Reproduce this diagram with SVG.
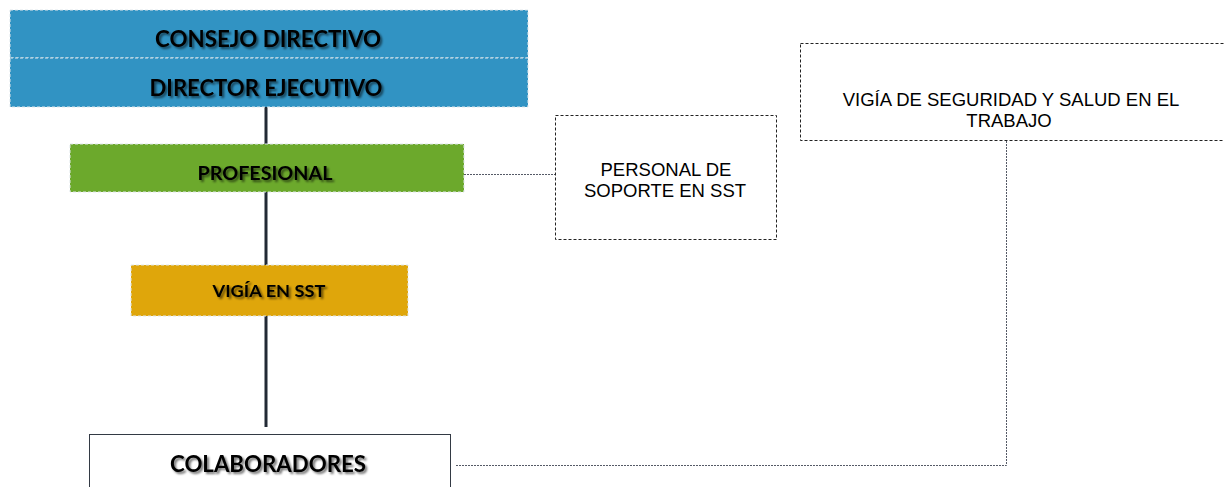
<svg xmlns="http://www.w3.org/2000/svg" width="1224" height="487" viewBox="0 0 1224 487">
<style>
.hdr{font-family:Lato,"Liberation Sans",sans-serif;font-weight:bold;fill:#000;text-anchor:middle;}
.plain{font-family:"Liberation Sans",Arial,sans-serif;font-size:18.5px;fill:#000;text-anchor:middle;}
.fillbox{stroke:#dfe6ea;stroke-width:1;stroke-dasharray:3 2;}
.dash{fill:#fff;stroke:#222;stroke-width:1;stroke-dasharray:3 2;}
.dot{fill:none;stroke:#555a66;stroke-width:1;stroke-dasharray:2 1;}
</style>
<defs>
<filter id="sh" x="-10%" y="-30%" width="120%" height="160%">
<feDropShadow dx="2" dy="2" stdDeviation="1.2" flood-color="#000" flood-opacity="0.55"/>
</filter>
</defs>
<rect width="1224" height="487" fill="#fff"/>
<g id="connectors">
<line x1="266" y1="100" x2="266" y2="427" stroke="#222a35" stroke-width="3"/>
<path class="dot" d="M464 174.5 H555"/>
<path class="dot" d="M1006.5 141 V465.5 H455"/>
</g>
<g id="consejo">
<rect class="fillbox" x="10" y="10" width="518" height="48" fill="#3193c3"/>
<text class="hdr" x="268" y="47" font-size="22" textLength="226" lengthAdjust="spacingAndGlyphs" filter="url(#sh)">CONSEJO DIRECTIVO</text>
</g>
<g id="director">
<rect class="fillbox" x="10" y="58" width="518" height="49" fill="#3193c3"/>
<text class="hdr" x="266" y="96" font-size="22" textLength="233" lengthAdjust="spacingAndGlyphs" filter="url(#sh)">DIRECTOR EJECUTIVO</text>
</g>
<g id="profesional">
<rect class="fillbox" x="70" y="144" width="394" height="48" fill="#6ca92c"/>
<text class="hdr" x="265" y="180" font-size="19" textLength="135" lengthAdjust="spacingAndGlyphs" filter="url(#sh)">PROFESIONAL</text>
</g>
<g id="vigia-sst">
<rect class="fillbox" x="131" y="265" width="277" height="51" fill="#dfa60b"/>
<text class="hdr" x="269" y="297" font-size="17" textLength="113" lengthAdjust="spacingAndGlyphs" filter="url(#sh)">VIGÍA EN SST</text>
</g>
<g id="colaboradores">
<rect x="89.5" y="434.5" width="361" height="60" fill="#fff" stroke="#333a44" stroke-width="1"/>
<text class="hdr" x="268" y="472" font-size="22" textLength="196" lengthAdjust="spacingAndGlyphs" filter="url(#sh)">COLABORADORES</text>
</g>
<g id="personal-soporte">
<rect class="dash" x="555.5" y="115.5" width="221" height="124"/>
<text class="plain" x="666" y="176">PERSONAL DE</text>
<text class="plain" x="665" y="197">SOPORTE EN SST</text>
</g>
<g id="vigia-seguridad">
<rect class="dash" x="800.5" y="43.5" width="430" height="97"/>
<text class="plain" x="1011" y="106">VIGÍA DE SEGURIDAD Y SALUD EN EL</text>
<text class="plain" x="1009" y="127">TRABAJO</text>
</g>
</svg>
